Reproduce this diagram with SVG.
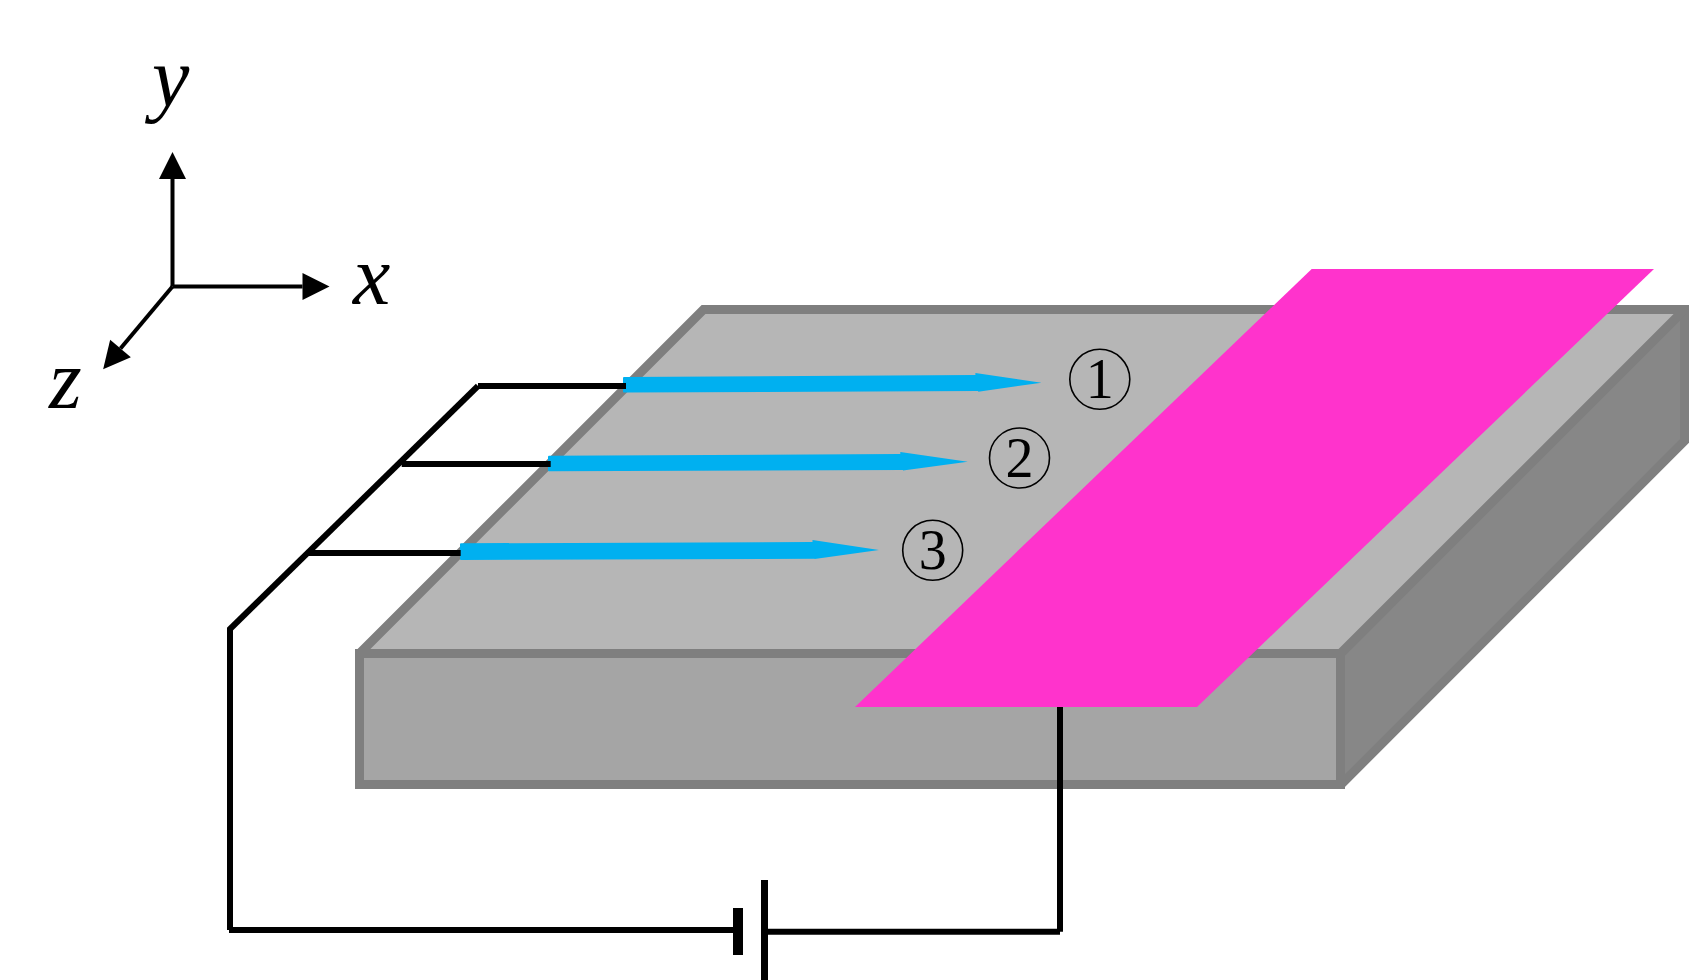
<svg xmlns="http://www.w3.org/2000/svg" width="1689" height="980" viewBox="0 0 1689 980">
<style>
.face{stroke:#7f7f7f;stroke-width:9;stroke-linejoin:miter;stroke-miterlimit:2}
.wire{fill:none;stroke:#000;stroke-width:6}
.axis{fill:none;stroke:#000;stroke-width:4}
.beam{fill:#00b0f0}
.ring{fill:none;stroke:#000;stroke-width:1.6}
.axlab{font-family:"Liberation Serif",serif;font-style:italic;font-size:84px;fill:#000}
.num{font-family:"Liberation Serif",serif;font-size:56px;fill:#000;text-anchor:middle}
</style>
<defs>
<marker id="ah" markerUnits="userSpaceOnUse" markerWidth="28" markerHeight="28" refX="0" refY="13.5" orient="auto" overflow="visible">
<path d="M0,0L27,13.5L0,27z" fill="#000"/>
</marker>
</defs>
<rect width="1689" height="980" fill="#fff"/>
<g id="slab">
<polygon class="face" fill="#878787" points="1340.5,653.5 1684.5,309.5 1684.5,441 1340.5,785"/>
<polygon class="face" fill="#b6b6b6" points="359.5,653.5 703.5,309.5 1684.5,309.5 1340.5,653.5"/>
<rect x="1680" y="305" width="9" height="9" fill="#7f7f7f"/>
<rect class="face" fill="#a5a5a5" x="359.5" y="653.5" width="981" height="131"/>
</g>
<g id="beam-1"><path class="beam" d="M623,378Q623,377 624,377L975.4,375L975.4,373L1041.5,382.7L978.2,391.7L978.2,391L624,392.6Q623,392.6 623,391.6z"/></g>
<g id="beam-2"><path class="beam" d="M548,457Q548,455.7 549,455.7L900.3,454L900.3,452L967.8,461.7L903,470.4L903,470L549,471.3Q548,471.3 548,470z"/></g>
<g id="beam-3"><path class="beam" d="M460,544.5Q460,543.3 461,543.3L812.5,542L812.5,540L879,550L814.6,558.9L814.6,558.7L461,560Q460,560 460,559z"/></g>
<g id="electrode"><polygon fill="#ff33cc" points="1311.7,269 1654,269 1197,707 855,707"/></g>
<g id="connectors">
<line class="wire" x1="230" y1="628" x2="230" y2="930"/>
<line class="wire" x1="229" y1="630" x2="478" y2="386"/>
<line class="wire" x1="478" y1="386" x2="626" y2="386"/>
<line class="wire" x1="401.7" y1="464" x2="550.7" y2="464"/>
<line class="wire" x1="308" y1="553" x2="460.7" y2="553"/>
<line class="wire" x1="229" y1="930" x2="733" y2="930"/>
<line class="wire" x1="768" y1="931.7" x2="1060" y2="931.7"/>
<line class="wire" x1="1060" y1="707" x2="1060" y2="931.7"/>
</g>
<g id="battery">
<rect x="733" y="908" width="10" height="47" fill="#000"/>
<rect x="761" y="880" width="7" height="100" fill="#000"/>
</g>
<g id="axes">
<line class="axis" x1="172.5" y1="286.5" x2="172.5" y2="179" marker-end="url(#ah)"/>
<line class="axis" x1="172.5" y1="286.5" x2="302.5" y2="286.5" marker-end="url(#ah)"/>
<line class="axis" x1="172.5" y1="286.5" x2="120.5" y2="348.5" marker-end="url(#ah)"/>
<text id="label-y" class="axlab" x="152" y="106">y</text>
<text id="label-x" class="axlab" x="353" y="304">x</text>
<text id="label-z" class="axlab" x="49" y="408">z</text>
</g>
<g id="marker-1"><circle class="ring" cx="1099.8" cy="379.3" r="30"/><text class="num" x="1099.8" y="398">1</text></g>
<g id="marker-2"><circle class="ring" cx="1019.5" cy="458" r="30"/><text class="num" x="1019.5" y="477">2</text></g>
<g id="marker-3"><circle class="ring" cx="932.7" cy="550.3" r="30"/><text class="num" x="932.7" y="569">3</text></g>
</svg>
